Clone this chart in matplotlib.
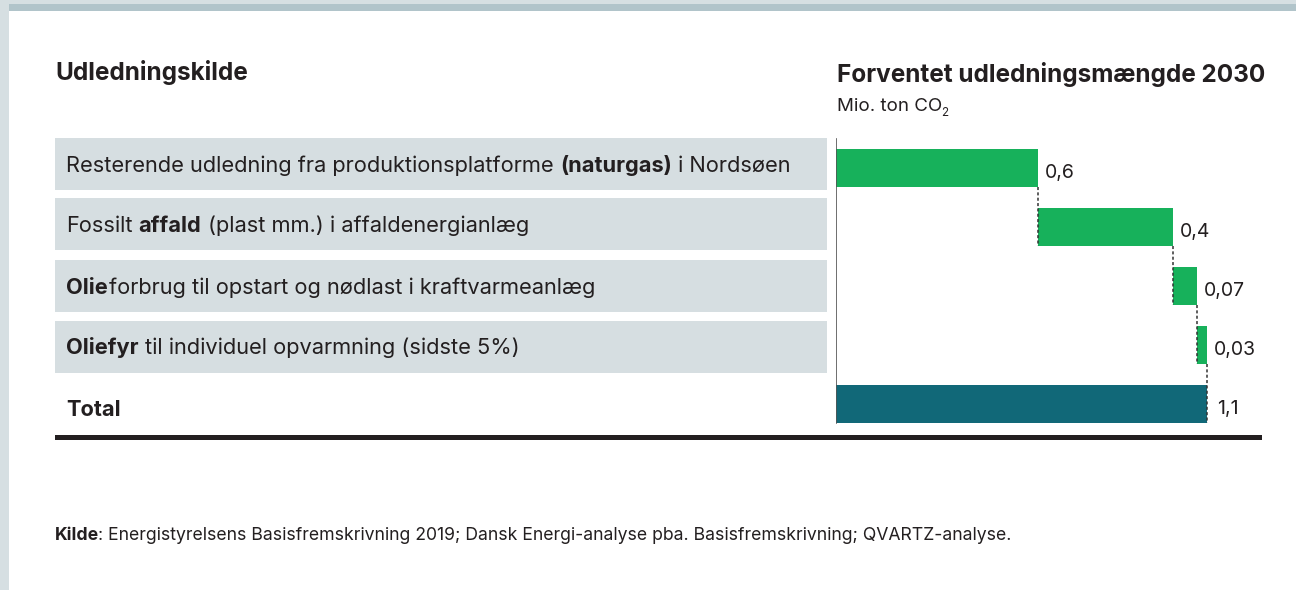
import matplotlib
matplotlib.use("Agg")
import matplotlib.pyplot as plt
from matplotlib.patches import Rectangle

plt.rcParams['font.family'] = ['Inter', 'DejaVu Sans']

# ---- data ----
categories = [
    [("Resterende udledning fra produktionsplatforme", "normal"), ("(naturgas)", "bold"), ("i Nordsøen", "normal")],
    [("Fossilt", "normal"), ("affald", "bold"), ("(plast mm.) i affaldenergianlæg", "normal")],
    [("Olie", "bold"), ("forbrug til opstart og nødlast i kraftvarmeanlæg", "normal")],
    [("Oliefyr", "bold"), ("til individuel opvarmning (sidste 5%)", "normal")],
]
total_label = "Total"
values = [0.6, 0.4, 0.07, 0.03]
total_value = 1.1
value_labels = ["0,6", "0,4", "0,07", "0,03"]
total_value_label = "1,1"
left_title = "Udledningskilde"
right_title = "Forventet udledningsmængde 2030"
unit_text = "Mio. ton CO"
source_bold = "Kilde"
source_rest = ": Energistyrelsens Basisfremskrivning 2019; Dansk Energi-analyse pba. Basisfremskrivning; QVARTZ-analyse."

GREEN = "#17b15b"
TEAL = "#116878"
BOX = "#d6dee1"
TXT = "#231f20"

ROW_FS = 15.7
TITLE_FS = 17.5
UNIT_FS = 13.5
VAL_FS = 14
SRC_FS = 12.7

W, H = 1296, 590
fig = plt.figure(figsize=(W / 100, H / 100), dpi=100)
fig.patch.set_facecolor("white")

bg = fig.add_axes([0, 0, 1, 1])
bg.set_xlim(0, W)
bg.set_ylim(H, 0)
bg.axis("off")

# frame strips
bg.add_patch(Rectangle((0, 0), W, 4, color="#d6dfe2", lw=0))
bg.add_patch(Rectangle((9, 4), W - 9, 7, color="#b1c4ca", lw=0))
bg.add_patch(Rectangle((0, 0), 9, H, color="#d6dfe2", lw=0))

renderer = fig.canvas.get_renderer()


def text_width(s, size, weight):
    t = bg.text(0, 0, s, fontsize=size, fontweight=weight)
    w = t.get_window_extent(renderer).width
    t.remove()
    return w


def rich(x, y, parts, size, gap=True):
    sp = text_width("x x", size, "normal") - text_width("xx", size, "normal")
    for i, (s, wgt) in enumerate(parts):
        t = bg.text(x, y, s, fontsize=size, fontweight=wgt, color=TXT, va="baseline", ha="left")
        x += t.get_window_extent(renderer).width
        if gap:
            x += sp


# titles
bg.text(55, 80, left_title, fontsize=TITLE_FS, fontweight="bold", color=TXT, va="baseline")
bg.text(837, 82, right_title, fontsize=TITLE_FS, fontweight="bold", color=TXT, va="baseline")
tu = bg.text(837, 111, unit_text, fontsize=UNIT_FS, color=TXT, va="baseline")
ux = tu.get_window_extent(renderer).x1
bg.text(ux - 1, 116, "2", fontsize=UNIT_FS * 0.62, color=TXT, va="baseline")

# row boxes + labels
box_tops = [138, 198, 260, 321]
box_h = 52
for i, parts in enumerate(categories):
    bg.add_patch(Rectangle((55, box_tops[i]), 827 - 55, box_h, color=BOX, lw=0))
    yb = box_tops[i] + box_h / 2 + 7.5
    if i == 2:
        rich(66, yb, [parts[0]], ROW_FS, gap=False)
        w0 = text_width(parts[0][0], ROW_FS, "bold")
        rich(66 + w0 + 1, yb, [parts[1]], ROW_FS)
    else:
        rich(66, yb, parts, ROW_FS)
bg.text(66, 416, total_label, fontsize=ROW_FS, fontweight="bold", color=TXT, va="baseline")

# thick bottom rule
bg.add_patch(Rectangle((55, 435), 1262 - 55, 5, color=TXT, lw=0))

# source
rich(55, 540, [(source_bold, "bold")], SRC_FS, gap=False)
wb = text_width(source_bold, SRC_FS, "bold")
bg.text(55 + wb - 1.5, 540, source_rest, fontsize=SRC_FS, color=TXT, va="baseline")

# ---- waterfall axes ----
px_per_unit = 337.0
ax_left, ax_right = 836, 1262
ax_top, ax_bot = 130, 440
ax = fig.add_axes([ax_left / W, 1 - ax_bot / H, (ax_right - ax_left) / W, (ax_bot - ax_top) / H])
ax.set_xlim(0, (ax_right - ax_left) / px_per_unit)
row0, step = 168, 59
ax.set_ylim((ax_bot - row0) / step, (ax_top - row0) / step)
ax.axis("off")
ax.patch.set_alpha(0)

bar_h = 38 / 59
lefts = []
cum = 0
for v in values:
    lefts.append(cum)
    cum += v
n = len(values)
ax.barh(range(n), values, left=lefts, height=bar_h, color=GREEN, lw=0)
ax.barh([n], [total_value], left=[0], height=bar_h, color=TEAL, lw=0)

# connectors
ends = [l + v for l, v in zip(lefts, values)]
for i in range(n):
    ax.plot([ends[i], ends[i]], [i + bar_h / 2, i + 1 + bar_h / 2], color="#333", lw=1.1,
            ls=(0, (2, 1.5)))

# axis line
ax.plot([0, 0], [-0.5, n + bar_h / 2], color="#555", lw=1.2)

# value labels
for i in range(n):
    ax.annotate(value_labels[i], (ends[i], i), xytext=(7, -5), textcoords="offset pixels",
                fontsize=VAL_FS, color=TXT, va="center", ha="left")
ax.annotate(total_value_label, (total_value, n), xytext=(10, -5), textcoords="offset pixels",
            fontsize=VAL_FS, color=TXT, va="center", ha="left")

fig.savefig("out.png", dpi=100, facecolor="white")
